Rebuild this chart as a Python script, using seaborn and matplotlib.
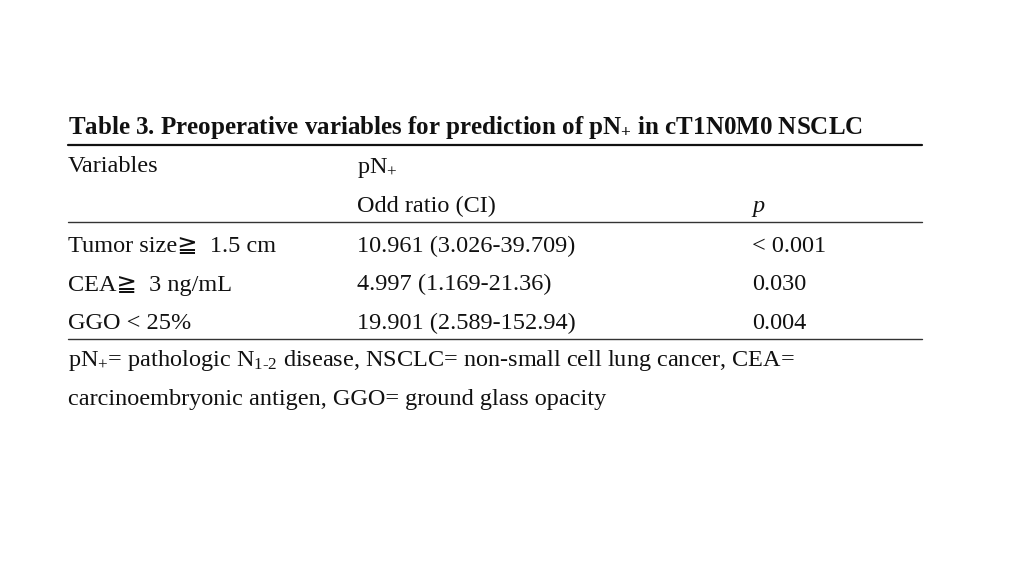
import matplotlib
matplotlib.use("Agg")
import matplotlib.pyplot as plt
import seaborn as sns

# table content
title = r"Table 3. Preoperative variables for prediction of pN$_{\mathbf{+}}$ in cT1N0M0 NSCLC"
col_header = "Variables"
group_header = r"pN$_{+}$"
sub_headers = ["Odd ratio (CI)", "p"]
variables = ["Tumor size\u2267  1.5 cm", "CEA\u2267  3 ng/mL", "GGO < 25%"]
odds_ratios = ["10.961 (3.026-39.709)", "4.997 (1.169-21.36)", "19.901 (2.589-152.94)"]
p_values = ["< 0.001", "0.030", "0.004"]
footnote = [r"pN$_{+}$= pathologic N$_{\text{1-2}}$ disease, NSCLC= non-small cell lung cancer, CEA=",
            "carcinoembryonic antigen, GGO= ground glass opacity"]

sns.set_theme(style="white")
plt.rcParams["font.family"] = ["Liberation Serif", "DejaVu Sans"]
plt.rcParams["mathtext.fontset"] = "custom"
plt.rcParams["mathtext.rm"] = "Liberation Serif"
plt.rcParams["mathtext.it"] = "Liberation Serif:italic"
plt.rcParams["mathtext.bf"] = "Liberation Serif:bold"

fig = plt.figure(figsize=(10.24, 5.76), dpi=100)
fig.patch.set_facecolor("white")
ax = fig.add_axes([0, 0, 1, 1])
ax.set_xlim(0, 1024)
ax.set_ylim(576, 0)
ax.axis("off")

x0, x1, x2, xr = 68, 357, 752, 922
fs = 17.5
col = "#111111"

ax.text(x0, 134, title, fontsize=18, fontweight="bold", va="baseline", color=col)
ax.plot([x0, xr], [145, 145], color="#111111", lw=1.6)

ax.text(x0, 172.5, col_header, fontsize=fs, va="baseline", color=col)
ax.text(x1, 172.5, group_header, fontsize=fs, va="baseline", color=col)
ax.text(x1, 212, sub_headers[0], fontsize=fs, va="baseline", color=col)
ax.text(x2, 212, sub_headers[1], fontsize=fs, va="baseline", color=col, fontstyle="italic")
ax.plot([x0, xr], [222, 222], color="#333333", lw=1.0)

for i, (v, o, p) in enumerate(zip(variables, odds_ratios, p_values)):
    y = 252 + i * 38.5
    ax.text(x0, y, v, fontsize=fs, va="baseline", color=col)
    ax.text(x1, y, o, fontsize=fs, va="baseline", color=col)
    ax.text(x2, y, p, fontsize=fs, va="baseline", color=col)
ax.plot([x0, xr], [339, 339], color="#333333", lw=1.0)

for i, line in enumerate(footnote):
    ax.text(x0, 366 + i * 39.5, line, fontsize=fs, va="baseline", color=col)

fig.savefig("out.png", dpi=100, facecolor="white")
